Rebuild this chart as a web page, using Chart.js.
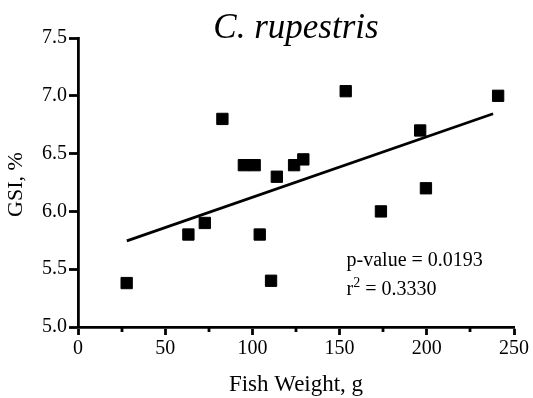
<!DOCTYPE html>
<html>
<head>
<meta charset="utf-8">
<script src="https://cdn.jsdelivr.net/npm/chart.js@4"></script>
<style>
html,body{margin:0;padding:0;background:#fff;}
#c{display:block;}
</style>
</head>
<body>
<canvas id="c" width="533" height="398"></canvas>
<script>
// ---- data ----
const fishWeight = [27.9, 63.3, 72.7, 82.8, 95.1, 101.3, 104.2, 110.7, 114.0, 123.9, 129.2, 153.5, 173.7, 196.2, 199.5, 240.9];
const gsiValues  = [5.38, 5.80, 5.90, 6.80, 6.40, 6.40, 5.80, 5.40, 6.30, 6.40, 6.45, 7.04, 6.00, 6.70, 6.20, 7.00];
const fitLineX = [28, 238];
const fitLineY = [5.745, 6.845];
const xMajorTicks = [0, 50, 100, 150, 200, 250];
const xMinorTicks = [25, 75, 125, 175, 225];
const yTicks = [5.0, 5.5, 6.0, 6.5, 7.0, 7.5];
const chartTitle = 'C. rupestris';
const xTitle = 'Fish Weight, g';
const yTitle = 'GSI, %';
const pValueText = 'p-value = 0.0193';
const r2Value = '0.3330';

const SERIF = '"Liberation Serif", "Times New Roman", Times, serif';

const points = fishWeight.map((x, i) => ({x: x, y: gsiValues[i]}));
const fit = fitLineX.map((x, i) => ({x: x, y: fitLineY[i]}));

const textPlugin = {
  id: 'texts',
  afterDraw(chart) {
    const ctx = chart.ctx;
    const ca = chart.chartArea;
    const xs = chart.scales.x, ys = chart.scales.y;
    ctx.save();
    ctx.fillStyle = '#000';
    ctx.strokeStyle = '#000';
    // minor x ticks
    ctx.lineWidth = 2.8;
    xMinorTicks.forEach(v => {
      const px = Math.round(xs.getPixelForValue(v));
      ctx.beginPath();
      ctx.moveTo(px, ca.bottom);
      ctx.lineTo(px, ca.bottom + 5);
      ctx.stroke();
    });
    // title
    ctx.font = 'italic 35px ' + SERIF;
    ctx.textAlign = 'center';
    ctx.textBaseline = 'alphabetic';
    ctx.fillText(chartTitle, (ca.left + ca.right) / 2, 38);
    // x title
    ctx.font = '23px ' + SERIF;
    ctx.fillText(xTitle, (ca.left + ca.right) / 2, 391);
    // y title
    ctx.save();
    ctx.translate(22, (ca.top + ca.bottom) / 2 + 2);
    ctx.rotate(-Math.PI / 2);
    ctx.font = '22px ' + SERIF;
    ctx.fillText(yTitle, 0, 0);
    ctx.restore();
    // annotation
    ctx.textAlign = 'left';
    ctx.font = '20px ' + SERIF;
    const ax = xs.getPixelForValue(154);
    ctx.fillText(pValueText, ax, ys.getPixelForValue(5.525));
    const by = ys.getPixelForValue(5.28);
    ctx.fillText('r', ax, by);
    const rw = ctx.measureText('r').width;
    ctx.font = '14px ' + SERIF;
    ctx.fillText('2', ax + rw, by - 8);
    const w2 = ctx.measureText('2').width;
    ctx.font = '20px ' + SERIF;
    ctx.fillText(' = ' + r2Value, ax + rw + w2, by);
    ctx.restore();
  }
};

new Chart(document.getElementById('c'), {
  type: 'scatter',
  data: {
    datasets: [
      {
        data: points,
        pointStyle: 'rect',
        pointRadius: 8,
        pointHoverRadius: 8,
        borderWidth: 1,
        backgroundColor: '#000',
        borderColor: '#000'
      },
      {
        data: fit,
        showLine: true,
        borderColor: '#000',
        borderWidth: 2.7,
        pointRadius: 0,
        pointHoverRadius: 0,
        fill: false
      }
    ]
  },
  options: {
    responsive: false,
    animation: false,
    devicePixelRatio: 1,
    layout: {padding: {top: 38, right: 19, left: 0, bottom: 0}},
    plugins: {legend: {display: false}, tooltip: {enabled: false}, title: {display: false}},
    scales: {
      x: {
        type: 'linear', min: 0, max: 250,
        afterFit(s) { s.height = 71; },
        afterBuildTicks(s) { s.ticks = xMajorTicks.map(v => ({value: v})); },
        ticks: {color: '#000', font: {family: SERIF, size: 20}, padding: 2, maxRotation: 0},
        grid: {drawOnChartArea: false, drawTicks: true, tickLength: 8, tickColor: '#000', tickWidth: 2.8},
        border: {display: true, color: '#000', width: 2.8}
      },
      y: {
        type: 'linear', min: 5, max: 7.5,
        afterFit(s) { s.width = 78; },
        afterBuildTicks(s) { s.ticks = yTicks.map(v => ({value: v})); },
        ticks: {color: '#000', font: {family: SERIF, size: 20}, padding: 2, callback: v => Number(v).toFixed(1)},
        grid: {drawOnChartArea: false, drawTicks: true, tickLength: 9, tickColor: '#000', tickWidth: 2.8},
        border: {display: true, color: '#000', width: 2.8}
      }
    }
  },
  plugins: [textPlugin]
});
</script>
</body>
</html>
